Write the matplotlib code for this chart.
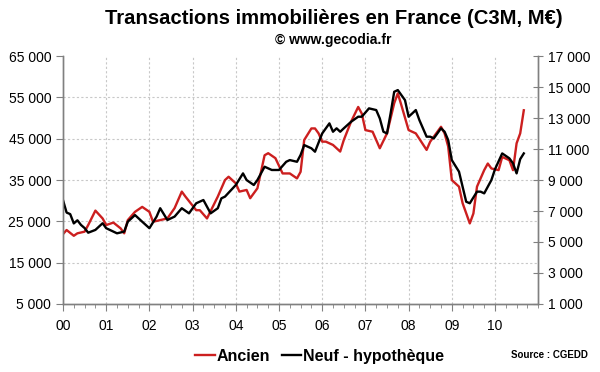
import numpy as np
import matplotlib
matplotlib.use("Agg")
import matplotlib.pyplot as plt
from matplotlib.ticker import FuncFormatter, MultipleLocator

plt.rcParams['font.family'] = ['Liberation Sans', 'DejaVu Sans']

# mois depuis janvier 2000
mois_ancien = [0, 1, 3, 4, 6, 7, 9, 11, 12, 14, 16, 17, 18, 20, 22, 24, 25, 27, 29, 31,
               33, 34, 37, 38, 40, 43, 45, 46, 48, 49, 51, 52, 54, 56, 57, 59, 61, 63, 65, 66,
               67, 69, 70, 71, 72, 73, 75, 77, 78, 80, 82, 83, 84, 86, 87, 88, 90, 92, 93, 94,
               96, 98, 101, 102, 105, 106, 107, 108, 110, 111, 113, 114, 115, 117, 118, 119,
               121, 122, 124, 125, 126, 127, 128]
ancien = [21900, 22900, 21500, 22100, 22500, 24100, 27600, 25700, 24100, 24700, 23300, 22100,
          25300, 27300, 28500, 27300, 24900, 25300, 25700, 28200, 32200, 31000, 27700, 27700,
          25700, 31000, 35000, 35800, 34200, 32200, 32600, 30600, 33000, 41000, 41500, 40300,
          36600, 36600, 35400, 37000, 44700, 47500, 47500, 46300, 44300, 44300, 43500, 41900,
          44700, 49100, 52700, 51100, 47100, 46700, 44700, 42700, 46300, 53600, 56000, 53100,
          47100, 46300, 42300, 44300, 47900, 46300, 43100, 35000, 33400, 29400, 24500, 26900,
          33400, 37400, 39000, 37800, 37400, 40600, 39800, 37400, 43900, 46300, 51900]

mois_neuf = [0, 1, 2, 3, 4, 5, 6, 7, 9, 11, 12, 14, 15, 17, 18, 20, 22, 24, 26, 27, 29, 31, 33,
             35, 37, 39, 41, 43, 44, 45, 48, 50, 51, 53, 54, 56, 58, 60, 62, 63, 65, 66, 67, 69,
             70, 72, 74, 75, 76, 77, 78, 80, 82, 83, 85, 87, 88, 89, 90, 91, 92, 93, 95, 96, 97,
             98, 99, 101, 102, 103, 105, 106, 107, 108, 110, 111, 112, 113, 115, 116, 117, 119,
             120, 122, 124, 125, 126, 127, 128]
neuf = [7700, 6900, 6800, 6200, 6400, 6100, 5900, 5600, 5780, 6210, 5890, 5670, 5560, 5670,
        6310, 6740, 6310, 5890, 6640, 7180, 6420, 6640, 7180, 6850, 7500, 7710, 6850, 7180,
        7820, 7930, 8680, 9430, 9000, 8680, 9000, 9860, 9650, 9650, 10180, 10290, 10180, 10620,
        11260, 11050, 10830, 12010, 12660, 12120, 12340, 12120, 12340, 12760, 13090, 13090,
        13630, 13520, 12980, 12120, 12010, 13300, 14700, 14810, 14160, 13090, 13300, 13520,
        12870, 11800, 11800, 11690, 12340, 12120, 11580, 10290, 9540, 8570, 7600, 7500, 8250,
        8250, 8140, 9000, 9700, 10720, 10400, 10080, 9430, 10350, 10720]

annees = ['00', '01', '02', '03', '04', '05', '06', '07', '08', '09', '10']

x_anc = 2000 + np.array(mois_ancien) / 12.0
x_neuf = 2000 + np.array(mois_neuf) / 12.0

fig = plt.figure(figsize=(6, 3.72), dpi=100)
ax = fig.add_axes([0.105, 0.183, 0.792, 0.666])
ax2 = ax.twinx()

gris = '#808080'
l1, = ax.plot(x_anc, ancien, color='#cc1f1f', lw=1.7)
l2, = ax2.plot(x_neuf, neuf, color='black', lw=1.7)

ax.set_xlim(2000, 2011)
ax.set_ylim(5000, 65000)
ax2.set_ylim(1000, 17000)

ax.set_xticks(np.arange(2000, 2011))
ax.set_xticklabels(annees)
ax.xaxis.set_minor_locator(MultipleLocator(0.25))
ax.set_yticks(np.arange(5000, 65001, 10000))
ax2.set_yticks(np.arange(1000, 17001, 2000))
fmt = FuncFormatter(lambda v, p: '{:,.0f}'.format(v).replace(',', ' '))
ax.yaxis.set_major_formatter(fmt)
ax2.yaxis.set_major_formatter(fmt)

ax.grid(True, which='major', color='#c8c8c8', ls=(0, (2, 2)), lw=0.8)
for a in (ax, ax2):
    a.spines['top'].set_visible(False)
    for s in ('left', 'right', 'bottom'):
        a.spines[s].set_color(gris)
        a.spines[s].set_linewidth(1.0)
ax.tick_params(axis='both', which='major', colors=gris, labelcolor='black', labelsize=10, length=5)
ax.tick_params(axis='x', which='minor', colors=gris, length=3)
ax.tick_params(axis='x', pad=6)
ax2.tick_params(axis='y', direction='inout', colors=gris, labelcolor='black', labelsize=10, length=7)
ax.yaxis.get_gridlines()[-1].set_visible(False)
ax.yaxis.get_gridlines()[0].set_visible(False)
ax.xaxis.get_gridlines()[0].set_visible(False)

fig.text(0.557, 0.949, 'Transactions immobilières en France (C3M, M€)', ha='center', va='center',
         fontsize=14.6, fontweight='bold')
fig.text(0.555, 0.892, '© www.gecodia.fr', ha='center', va='center', fontsize=10, fontweight='bold')

# légende
fig.legend([l1, l2], ['Ancien', 'Neuf - hypothèque'], loc='center', bbox_to_anchor=(0.533, 0.043),
           ncol=2, frameon=False, handlelength=1.2, handletextpad=0.15, columnspacing=0.7,
           prop={'weight': 'bold', 'size': 11.5})
fig.text(0.98, 0.047, 'Source : CGEDD', ha='right', va='center', fontsize=7, fontweight='bold')

fig.savefig('out.png', dpi=100)
